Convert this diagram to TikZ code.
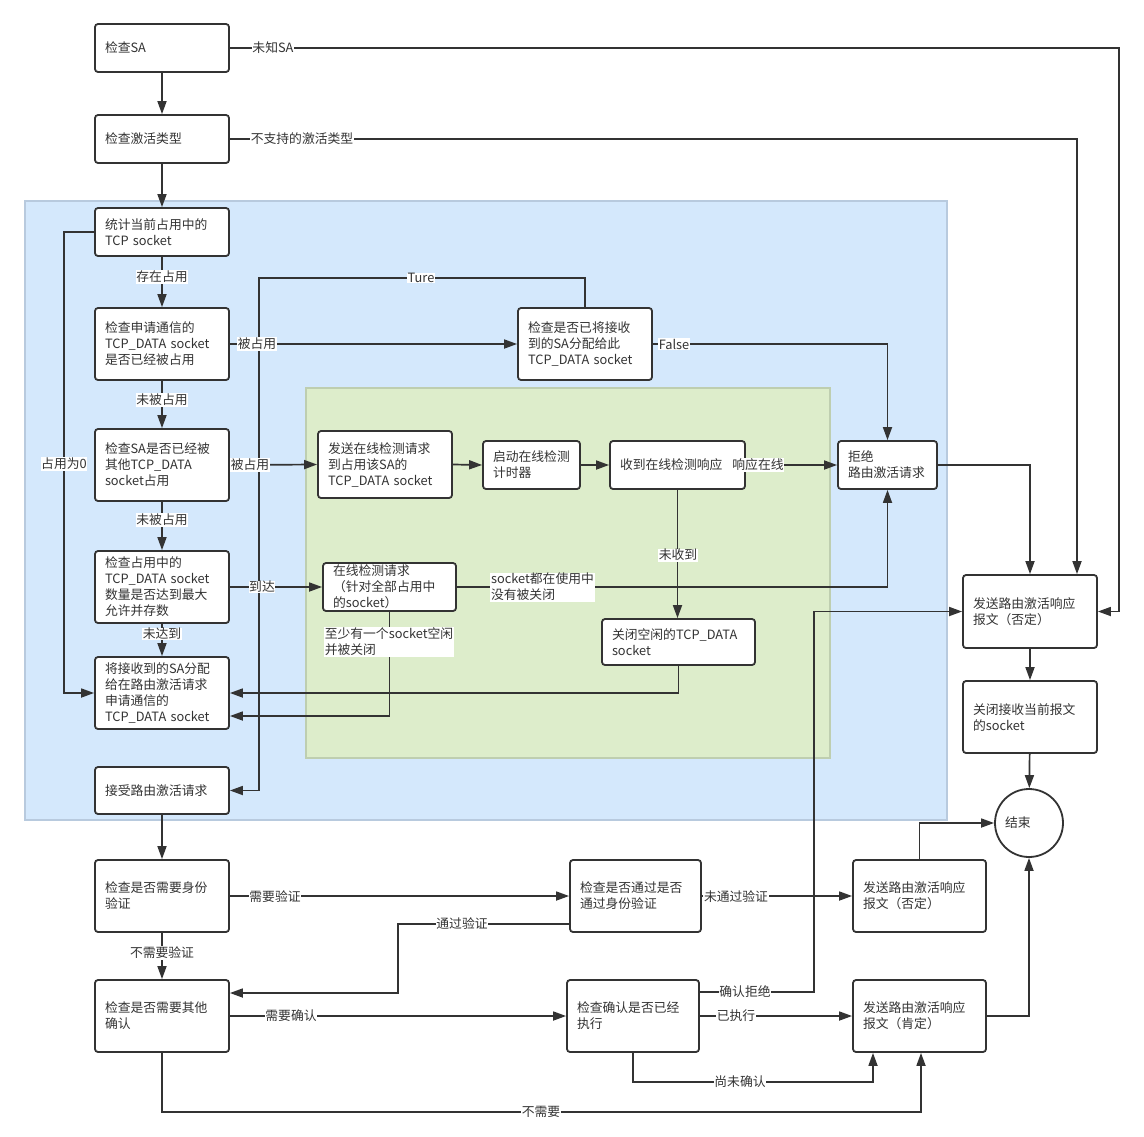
\documentclass[tikz,border=0pt]{standalone}
\usepackage{fontspec}
\setmainfont{Noto Sans CJK SC}
\usetikzlibrary{arrows.meta}
\definecolor{ln}{HTML}{333333}
\definecolor{bluef}{RGB}{212,232,252}
\definecolor{blued}{RGB}{184,202,222}
\definecolor{greenf}{RGB}{221,237,203}
\definecolor{greend}{RGB}{190,206,176}
\begin{document}
\begin{tikzpicture}[x=1pt,y=-1pt,
  font=\fontsize{12.8}{16}\selectfont,
  bx/.style={draw=ln,line width=1.8pt,rounded corners=3pt,fill=white,align=left,inner xsep=10pt,inner ysep=0pt,text=ln},
  ar/.style={draw=ln,line width=1.7pt,-{Triangle[length=13pt,width=9pt]}},
  lbl/.style={fill=white,inner sep=0.6pt,text=ln,align=left}]
\useasboundingbox (0,0) rectangle (1144,1136);
% containers
\draw[draw=blued,fill=bluef,line width=1.2pt] (25,201) rectangle (947,820);
\draw[draw=greend,fill=greenf,line width=1.2pt] (306,388) rectangle (830,758);
% boxes
\node[bx,text width=114pt,minimum height=48pt] (sa) at (162,48) {检查SA};
\node[bx,text width=114pt,minimum height=48pt] (type) at (162,139) {检查激活类型};
\node[bx,text width=114pt,minimum height=48pt] (count) at (162,232) {统计当前占用中的\\TCP socket};
\node[bx,text width=114pt,minimum height=72pt] (occ) at (162,344) {检查申请通信的\\TCP\_DATA socket\\是否已经被占用};
\node[bx,text width=114pt,minimum height=72pt] (other) at (162,465) {检查SA是否已经被\\其他TCP\_DATA\\socket占用};
\node[bx,text width=114pt,minimum height=72pt] (max) at (162,587) {检查占用中的\\TCP\_DATA socket\\数量是否达到最大\\允许并存数};
\node[bx,text width=114pt,minimum height=72pt] (assign) at (162,693) {将接收到的SA分配\\给在路由激活请求\\申请通信的\\TCP\_DATA socket};
\node[bx,text width=114pt,minimum height=47pt] (accept) at (162,790.5) {接受路由激活请求};
\node[bx,text width=114pt,minimum height=72pt] (auth) at (162,896) {检查是否需要身份\\验证};
\node[bx,text width=114pt,minimum height=72pt] (confirm) at (162,1016) {检查是否需要其他\\确认};
\node[bx,text width=114pt,minimum height=72pt] (assigned) at (585,344) {检查是否已将接收\\到的SA分配给此\\TCP\_DATA socket};
\node[bx,text width=114pt,minimum height=67pt] (send) at (385,464.5) {发送在线检测请求\\到占用该SA的\\TCP\_DATA socket};
\node[bx,text width=77pt,minimum height=48pt] (timer) at (531.5,465) {启动在线检测\\计时器};
\node[bx,text width=115pt,minimum height=48pt] (recv) at (677.5,465) {收到在线检测响应};
\node[bx,text width=79pt,minimum height=48pt] (reject) at (887.5,465) {拒绝\\路由激活请求};
\node[bx,text width=113pt,minimum height=48pt] (req) at (389.5,587) {在线检测请求\\（针对全部占用中\\的socket）};
\node[bx,text width=133pt,minimum height=46pt] (close) at (678.5,642) {关闭空闲的TCP\_DATA\\socket};
\node[bx,text width=114pt,minimum height=73pt] (neg1) at (1030,611.5) {发送路由激活响应\\报文（否定）};
\node[bx,text width=114pt,minimum height=72pt] (closecur) at (1030,717) {关闭接收当前报文\\的socket};
\node[draw=ln,circle,line width=1.8pt,fill=white,minimum size=68pt,inner sep=0pt,text width=48pt,align=left,text=ln] (end) at (1029,823) {结束};
\node[bx,text width=111pt,minimum height=72pt] (passchk) at (635.5,896) {检查是否通过是否\\通过身份验证};
\node[bx,text width=113pt,minimum height=72pt] (neg2) at (919.5,896) {发送路由激活响应\\报文（否定）};
\node[bx,text width=112pt,minimum height=72pt] (exec) at (633,1016) {检查确认是否已经\\执行};
\node[bx,text width=113pt,minimum height=72pt] (pos) at (919.5,1016) {发送路由激活响应\\报文（肯定）};
% connectors
\draw[ar] (sa) -- (type);
\draw[ar] (type) -- (count);
\draw[ar] (sa.east) -- (1119,48) |- (neg1.east);
\draw[ar] (type.east) -| ([xshift=47pt]neg1.north);
\draw[ar] (count) -- (occ);
\draw[ar] (occ) -- (other);
\draw[ar] (other) -- (max);
\draw[ar] (max) -- (assign);
\draw[ar] (count.west) -- (64,232) |- (assign.west);
\draw[ar] (occ.east) -- (assigned.west);
\draw[ar] (assigned.north) -- (585,278) -- (259,278) |- (accept.east);
\draw[ar] (assigned.east) -| (reject.north);
\draw[ar] (other.east) -- (send.west);
\draw[ar] (send.east) -- (timer.west);
\draw[ar] (timer.east) -- (recv.west);
\draw[ar] (recv.east) -- (reject.west);
\draw[ar] (recv.south) -- (recv.south |- close.north);
\draw[ar] (max.east) -- (req.west);
\draw[ar] (req.east) -| (reject.south);
\draw[ar] (close.south) |- (assign.east);
\draw[ar] (req.south) |- ([yshift=-23pt]assign.east);
\draw[ar] (reject.east) -| (neg1.north);
\draw[ar] (neg1) -- (closecur);
\draw[ar] (closecur) -- (end);
\draw[ar] (accept) -- (auth);
\draw[ar] (auth.east) -- (passchk.west |- auth.east);
\draw[ar] (passchk.east) -- (neg2.west);
\draw[ar] ([yshift=-28pt]passchk.west) -- (398,924) |- ([yshift=23pt]confirm.east);
\draw[ar] (auth) -- (confirm);
\draw[ar] (confirm.east) -- (exec.west);
\draw[ar] ([yshift=24pt]exec.east) -- (814,992) |- (neg1.west);
\draw[ar] (exec.east) -- (pos.west);
\draw[ar] (pos.east) -| (end.south);
\draw[ar] (neg2.north) |- (end.west);
\draw[ar] (exec.south) -- (633,1082) -| ([xshift=-46.5pt]pos.south);
\draw[ar] (confirm.south) -- (162,1112) -| ([xshift=1.5pt]pos.south);
% labels
\node[lbl] (l1) at (273,48) {未知SA};
\node[lbl] (l2) at (302,139) {不支持的激活类型};
\node[lbl] (l3) at (162,277) {存在占用};
\node[lbl] (l4) at (162,400) {未被占用};
\node[lbl] (l5) at (162,520) {未被占用};
\node[lbl] (l6) at (162,634) {未达到};
\node[lbl] (l7) at (64,464) {占用为0};
\node[lbl] (l8) at (257,344) {被占用};
\node[lbl] (l9) at (421,278) {Ture};
\node[lbl] (l10) at (674,344) {False};
\node[lbl] (l11) at (250,465) {被占用};
\node[lbl] (l12) at (758,465) {响应在线};
\node[lbl] (l13) at (678,555) {未收到};
\node[lbl] (l14) at (262,587) {到达};
\node[lbl] (l15) at (542.5,587) {socket都在使用中\\没有被关闭};
\node[lbl] (l16) at (389,642) {至少有一个socket空闲\\并被关闭};
\node[lbl] (l17) at (275,897) {需要验证};
\node[lbl] (l18) at (736,897) {未通过验证};
\node[lbl] (l19) at (462,924) {通过验证};
\node[lbl] (l20) at (162,953) {不需要验证};
\node[lbl] (l21) at (291,1016) {需要确认};
\node[lbl] (l22) at (745,992) {确认拒绝};
\node[lbl] (l23) at (736,1016) {已执行};
\node[lbl] (l24) at (740,1082) {尚未确认};
\node[lbl] (l25) at (541,1112) {不需要};
\end{tikzpicture}
\end{document}
